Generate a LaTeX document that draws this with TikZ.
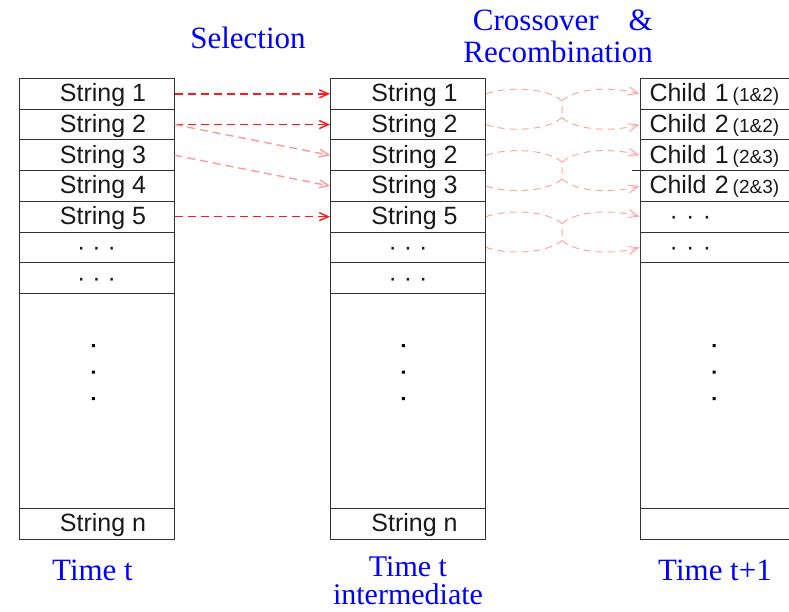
\documentclass[tikz,border=0pt]{standalone}
\usepackage{fontspec}
\setmainfont{Liberation Serif}
\newfontfamily\cellfont{Liberation Sans}
\usetikzlibrary{arrows.meta}

\tikzset{
  cell/.style={draw=black!80, line width=1pt, minimum width=155pt,
    minimum height=30.7pt, inner sep=1pt, text height=19pt, text depth=3pt,
    font=\cellfont\fontsize{25}{30}\selectfont, text=black!90},
  strcell/.style={cell, execute at begin node={\hspace*{13pt}}},
  kidcell/.style={cell, text width=136pt},
  bigcell/.style={draw=black!80, line width=1pt, minimum width=155pt, inner sep=0pt},
  stage/.style={text=blue, inner sep=0pt},
  sel/.style={draw=red!90, line width=1.4pt, dash pattern=on 8pt off 5pt,
    -{Straight Barb[length=9pt,width=8pt]}},
  selx/.style={sel, draw=red!40},
  cross/.style={draw=red!35, line width=1pt, dash pattern=on 7pt off 5pt},
  crossto/.style={cross, -{Straight Barb[length=10pt,width=8pt]}},
}
\newcommand{\pairtag}[1]{{\fontsize{19}{20}\selectfont\hspace{4pt}(#1)}}

\begin{document}
\begin{tikzpicture}[x=1pt, y=-1pt]
  \useasboundingbox (0,0) rectangle (789,611);

  % population at time t
  \node[strcell] (a1) at (96.5,93.85) {String 1};
  \node[strcell] (a2) at (96.5,124.55) {String 2};
  \node[strcell] (a3) at (96.5,155.25) {String 3};
  \node[strcell] (a4) at (96.5,185.95) {String 4};
  \node[strcell] (a5) at (96.5,216.65) {String 5};
  \node[cell] (a6) at (96.5,247.35) {· · ·};
  \node[cell] (a7) at (96.5,278.05) {· · ·};
  \node[bigcell, minimum height=215.2pt] (a8) at (96.5,401) {};
  \node[strcell] (a9) at (96.5,523.95) {String n};

  % intermediate population
  \node[strcell] (b1) at (408,93.85) {String 1};
  \node[strcell] (b2) at (408,124.55) {String 2};
  \node[strcell] (b3) at (408,155.25) {String 2};
  \node[strcell] (b4) at (408,185.95) {String 3};
  \node[strcell] (b5) at (408,216.65) {String 5};
  \node[cell] (b6) at (408,247.35) {· · ·};
  \node[cell] (b7) at (408,278.05) {· · ·};
  \node[bigcell, minimum height=215.2pt] (b8) at (408,401) {};
  \node[strcell] (b9) at (408,523.95) {String n};

  % population at time t+1
  \node[kidcell] (c1) at (717.5,93.85) {Child 1\pairtag{1\&2}};
  \node[kidcell] (c2) at (717.5,124.55) {Child 2\pairtag{1\&2}};
  \node[kidcell] (c3) at (717.5,155.25) {Child 1\pairtag{2\&3}};
  \node[kidcell] (c4) at (717.5,185.95) {Child 2\pairtag{2\&3}};
  \node[kidcell] (c5) at (717.5,216.65) {\hspace*{20pt}· · ·};
  \node[kidcell] (c6) at (717.5,247.35) {\hspace*{20pt}· · ·};
  \node[bigcell, minimum height=245.9pt] (c7) at (717.5,385.65) {};
  \node[cell] (c8) at (717.5,523.95) {};
  \draw[black!80, line width=1pt] (c4.north west) -- ++(-8,0);

  % vertical dots
  \fill (91.8,344) rectangle +(3,3) (91.8,370.5) rectangle +(3,3) (91.8,397) rectangle +(3,3);
  \fill (401.8,344) rectangle +(3,3) (401.8,370.5) rectangle +(3,3) (401.8,397) rectangle +(3,3);
  \fill (712.5,344) rectangle +(3,3) (712.5,370.5) rectangle +(3,3) (712.5,397) rectangle +(3,3);

  % selection
  \draw[sel] (a1.east) -- (b1.west);
  \draw[sel] (a2.east) -- (b2.west);
  \draw[selx] (a2.east) -- (b3.west);
  \draw[selx] (a3.east) -- (b4.west);
  \draw[sel] (a5.east) -- (b5.west);

  % crossover
  \coordinate (m1) at (562,100.7);
  \coordinate (n1) at (562,117.7);
  \coordinate (m2) at (562,162.1);
  \coordinate (n2) at (562,179.1);
  \coordinate (m3) at (562,223.5);
  \coordinate (n3) at (562,240.5);
  \begin{scope}
    \draw[cross] (b1.east) .. controls +(19,-7) and +(-17,-14) .. (m1) -- (n1);
    \draw[cross] (b2.east) .. controls +(19,7) and +(-17,14) .. (n1);
    \draw[crossto] (m1) .. controls +(16,-13.7) and +(-25,-7) .. (c1.west);
    \draw[crossto] (n1) .. controls +(16,13.7) and +(-25,7) .. (c2.west);
    \draw[cross] (b3.east) .. controls +(19,-7) and +(-17,-14) .. (m2) -- (n2);
    \draw[cross] (b4.east) .. controls +(19,7) and +(-17,14) .. (n2);
    \draw[crossto] (m2) .. controls +(16,-13.7) and +(-25,-7) .. (c3.west);
    \draw[crossto] (n2) .. controls +(16,13.7) and +(-25,7) .. (c4.west);
    \draw[cross] (b5.east) .. controls +(19,-7) and +(-17,-14) .. (m3) -- (n3);
    \draw[cross] (b6.east) .. controls +(19,7) and +(-17,14) .. (n3);
    \draw[crossto] (m3) .. controls +(16,-13.7) and +(-25,-7) .. (c5.west);
    \draw[crossto] (n3) .. controls +(16,13.7) and +(-25,7) .. (c6.west);
  \end{scope}

  % stage labels
  \node[stage, font=\fontsize{31}{32}\selectfont, anchor=base] (selection) at (248,48) {Selection};
  \node[stage, font=\fontsize{31}{32}\selectfont, align=right, anchor=north east] (crossover) at (653,10)
    {Crossover\hspace*{30pt}\&\\Recombination};
  \node[stage, font=\fontsize{31}{32}\selectfont, anchor=base] (time1) at (92.5,580) {Time t};
  \node[stage, font=\fontsize{30}{28}\selectfont, align=center, anchor=north] (time2) at (408,556)
    {Time t\\intermediate};
  \node[stage, font=\fontsize{31}{32}\selectfont, anchor=base] (time3) at (715,580) {Time t+1};
\end{tikzpicture}
\end{document}
